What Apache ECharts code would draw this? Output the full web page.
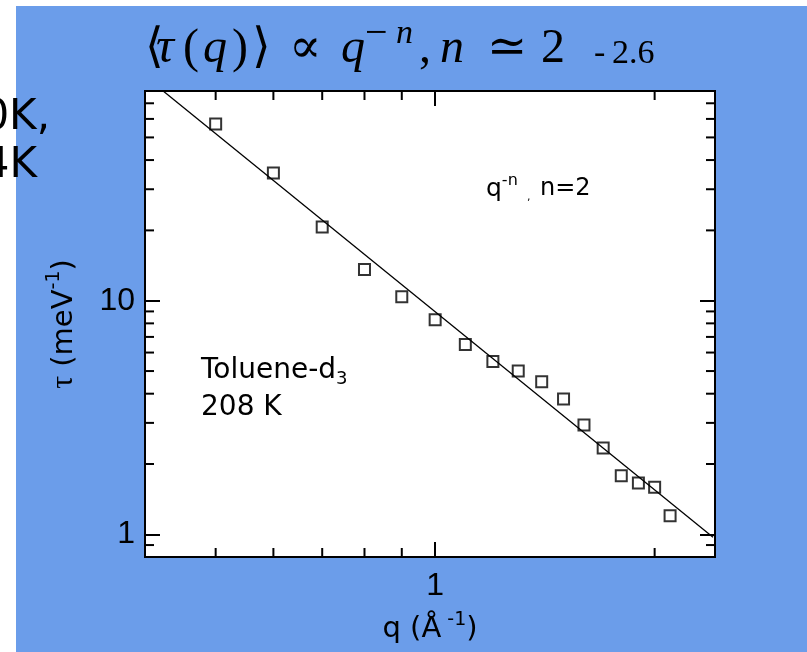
<!DOCTYPE html>
<html>
<head>
<meta charset="utf-8">
<script src="https://cdn.jsdelivr.net/npm/echarts@6/dist/echarts.min.js"></script>
<style>
  html, body { margin: 0; padding: 0; background: #ffffff; }
  #chart { width: 807px; height: 652px; }
</style>
</head>
<body>
<div id="chart"></div>
<script>
// Relaxation time versus momentum transfer, toluene-d3 at 208 K
const qValues = [0.5, 0.6, 0.7, 0.8, 0.9, 1.0, 1.1, 1.2, 1.3, 1.4, 1.5, 1.6, 1.7, 1.8, 1.9, 2.0, 2.1];
const tauValues = [57.1, 35.2, 20.7, 13.6, 10.4, 8.3, 6.5, 5.5, 5.0, 4.5, 3.8, 2.94, 2.34, 1.78, 1.66, 1.59, 1.20];

// Power-law guide line, end points
const fitQ = [0.424, 2.405];
const fitTau = [78.8, 0.973];

// Axis ranges and tick values
const qRange = [0.4, 2.42];
const tauRange = [0.8, 79];
const qMajorTicks = [1];
const qMinorTicks = [0.5, 0.6, 0.7, 0.8, 0.9, 2];
const qTickLabels = [1];
const tauMajorTicks = [1, 10];
const tauMinorTicks = [0.9, 2, 3, 4, 5, 6, 7, 8, 9, 20, 30, 40, 50, 60, 70];
const tauTickLabels = [1, 10];

const BLUE = '#6b9dea';
const MINOR_LEN = 9;
const MAJOR_LEN = 15;
const SANS = '"DejaVu Sans"';
const SERIF = '"Liberation Serif", "DejaVu Serif", serif';

function logAxis(kind, opts) {
  const range = kind === 'x' ? qRange : tauRange;
  return Object.assign({
    type: 'log',
    logBase: 10,
    min: range[0],
    max: range[1],
    splitLine: { show: false },
    axisLine: { show: true, onZero: false, lineStyle: { color: '#000', width: 2 } },
    axisLabel: { show: false },
    axisTick: { show: false }
  }, opts);
}

function axisTicks(values, len) {
  return { show: true, inside: true, length: len, customValues: values, lineStyle: { color: '#000', width: 2 } };
}

const tickFont = { fontFamily: 'Liberation Sans', fontSize: 32, color: '#000' };

// Short ticks on the left and right frame edges at a tau value
function tauTickItem(params, api) {
  const v = api.value(1);
  const a = api.coord([qRange[0], v]);
  const b = api.coord([qRange[1], v]);
  const style = { stroke: '#000', lineWidth: 2 };
  return {
    type: 'group',
    children: [
      { type: 'line', shape: { x1: a[0], y1: a[1], x2: a[0] + MINOR_LEN, y2: a[1] }, style },
      { type: 'line', shape: { x1: b[0], y1: b[1], x2: b[0] - MINOR_LEN, y2: b[1] }, style }
    ]
  };
}

// Title pieces: text, left edge, font, raised
const titlePieces = [
  ['⟨', 145, 'normal 48px'],
  ['τ', 156, 'italic 50px'],
  ['(', 183, 'normal 48px'],
  ['q', 203, 'italic 48px'],
  [')', 232, 'normal 48px'],
  ['⟩', 252, 'normal 48px'],
  ['∝', 289, 'normal 48px'],
  ['q', 341, 'italic 48px'],
  ['−', 365, 'normal 40px', true],
  ['n', 396, 'italic 34px', true],
  [',', 419, 'normal 48px'],
  ['n', 440, 'italic 48px'],
  ['≃', 487, 'normal 48px'],
  ['2', 541, 'normal 48px'],
  ['-', 594, 'normal 34px'],
  ['2.6', 612, 'normal 34px']
];
const TITLE_MID = 49;
const SUP_MID = 34;

const chart = echarts.init(document.getElementById('chart'));

const option = {
  backgroundColor: '#ffffff',
  animation: false,
  grid: { show: true, backgroundColor: '#ffffff', borderColor: '#000', borderWidth: 2, left: 145, top: 91, right: 92, bottom: 95 },
  xAxis: [
    logAxis('x', {
      position: 'bottom',
      axisTick: axisTicks(qMajorTicks, MAJOR_LEN),
      axisLabel: Object.assign({ show: true, customValues: qTickLabels, margin: 13, formatter: v => String(v) }, tickFont),
      name: '{t|q (Å}{s| -1}{t|)}',
      nameLocation: 'middle',
      nameGap: 54,
      nameTextStyle: {
        rich: {
          t: { fontFamily: 'DejaVu Sans', fontSize: 29, color: '#000', lineHeight: 36 },
          s: { fontFamily: 'DejaVu Sans', fontSize: 19, color: '#000', lineHeight: 22, verticalAlign: 'top' }
        }
      }
    }),
    logAxis('x', { position: 'top', axisTick: axisTicks(qMajorTicks, MAJOR_LEN) })
  ],
  yAxis: [
    logAxis('y', {
      position: 'left',
      axisTick: axisTicks(tauMajorTicks, MAJOR_LEN),
      axisLabel: Object.assign({ show: true, customValues: tauTickLabels, margin: 10, formatter: v => String(v) }, tickFont),
      name: '{g|τ}{t| (meV}{s|-1}{t|)}',
      nameLocation: 'middle',
      nameGap: 62,
      nameRotate: 90,
      nameTextStyle: {
        rich: {
          g: { fontFamily: 'Liberation Serif', fontSize: 32, color: '#000', lineHeight: 38 },
          t: { fontFamily: 'DejaVu Sans', fontSize: 29, color: '#000', lineHeight: 38 },
          s: { fontFamily: 'DejaVu Sans', fontSize: 19, color: '#000', lineHeight: 22, verticalAlign: 'top' }
        }
      }
    }),
    logAxis('y', { position: 'right', axisTick: axisTicks(tauMajorTicks, MAJOR_LEN) })
  ],
  graphic: [
    // page backdrop
    { type: 'rect', z: -10, silent: true, shape: { x: 16, y: 6, width: 807 - 16, height: 652 - 6 }, style: { fill: BLUE } },
    // stray slide text at the left edge
    { type: 'text', z: -5, x: 50, y: 118, style: { text: '0K,', font: '42px ' + SANS, fill: '#000', textAlign: 'right', textVerticalAlign: 'middle' } },
    { type: 'text', z: -5, x: 37, y: 166, style: { text: '4K', font: '42px ' + SANS, fill: '#000', textAlign: 'right', textVerticalAlign: 'middle' } },
    // title formula
    {
      type: 'group', z: 10,
      children: titlePieces.map(p => ({
        type: 'text', x: p[1], y: p[3] ? SUP_MID : (p[2].indexOf('34px') >= 0 ? TITLE_MID + 5 : TITLE_MID),
        style: { text: p[0], font: p[2] + ' ' + SERIF, fill: '#000', textAlign: 'left', textVerticalAlign: 'middle' }
      }))
    },
    // annotations inside the frame
    {
      type: 'text', z: 10, x: 486, y: 189,
      style: {
        text: '{t|q}{s|-n}',
        textVerticalAlign: 'middle',
        rich: {
          t: { fontFamily: 'DejaVu Sans', fontSize: 25, fill: '#000', lineHeight: 32 },
          s: { fontFamily: 'DejaVu Sans', fontSize: 16, fill: '#000', lineHeight: 18, verticalAlign: 'top' }
        }
      }
    },
    { type: 'text', z: 10, x: 527, y: 197, style: { text: ',', font: '11px ' + SANS, fill: '#000', textVerticalAlign: 'middle' } },
    { type: 'text', z: 10, x: 540, y: 189, style: { text: 'n=2', font: '24px ' + SANS, fill: '#000', textVerticalAlign: 'middle' } },
    {
      type: 'text', z: 10, x: 201, y: 371,
      style: {
        text: '{t|Toluene-d}{b|3}',
        textVerticalAlign: 'middle',
        rich: {
          t: { fontFamily: 'DejaVu Sans', fontSize: 28, fill: '#000', lineHeight: 34 },
          b: { fontFamily: 'DejaVu Sans', fontSize: 18, fill: '#000', lineHeight: 20, verticalAlign: 'bottom' }
        }
      }
    },
    { type: 'text', z: 10, x: 201, y: 408, style: { text: '208 K', font: '28px ' + SANS, fill: '#000', textVerticalAlign: 'middle' } }
  ],
  series: [
    {
      type: 'custom',
      clip: false,
      silent: true,
      data: tauMinorTicks.map(v => [qRange[0], v]),
      renderItem: tauTickItem
    },
    {
      type: 'line',
      data: fitQ.map((q, i) => [q, fitTau[i]]),
      showSymbol: false,
      lineStyle: { color: '#000', width: 1.3 }
    },
    {
      type: 'scatter',
      data: qValues.map((q, i) => [q, tauValues[i]]),
      symbol: 'rect',
      symbolSize: 11,
      itemStyle: { color: 'rgba(0,0,0,0)', borderColor: '#000', borderWidth: 2 }
    }
  ]
};

chart.setOption(option);

// Minor q ticks on the bottom and top frame edges, placed through the axis scale
try {
  const yBottom = chart.convertToPixel({ gridIndex: 0 }, [1, tauRange[0]])[1];
  const yTop = chart.convertToPixel({ gridIndex: 0 }, [1, tauRange[1]])[1];
  const tickStyle = { stroke: '#000', lineWidth: 2 };
  const qTickEls = [];
  qMinorTicks.forEach(v => {
    const x = chart.convertToPixel({ gridIndex: 0 }, [v, tauRange[0]])[0];
    if (!isFinite(x) || !isFinite(yBottom) || !isFinite(yTop)) return;
    qTickEls.push({ type: 'line', z: 10, silent: true, shape: { x1: x, y1: yBottom, x2: x, y2: yBottom - MINOR_LEN }, style: tickStyle });
    qTickEls.push({ type: 'line', z: 10, silent: true, shape: { x1: x, y1: yTop, x2: x, y2: yTop + MINOR_LEN }, style: tickStyle });
  });
  if (qTickEls.length) {
    option.graphic = option.graphic.concat(qTickEls);
    chart.setOption(option, true);
  }
} catch (e) {
  // keep the first rendering if tick placement is unavailable
}
</script>
</body>
</html>
